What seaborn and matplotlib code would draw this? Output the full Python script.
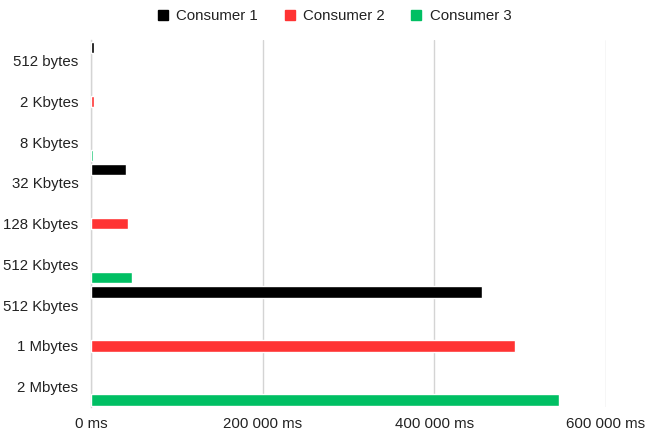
import matplotlib
matplotlib.use("Agg")
import matplotlib.pyplot as plt
from matplotlib.lines import Line2D
import seaborn as sns
import pandas as pd
import numpy as np

# Message-size groups and the transfer time per consumer (ms)
groups = ["small", "medium", "large"]
consumers = ["Consumer 1", "Consumer 2", "Consumer 3"]
consumer1_ms = [3500, 40800, 455400]
consumer2_ms = [3000, 43500, 493800]
consumer3_ms = [2500, 47800, 544700]

size_labels = ["512 bytes", "2 Kbytes", "8 Kbytes", "32 Kbytes", "128 Kbytes",
               "512 Kbytes", "512 Kbytes", "1 Mbytes", "2 Mbytes"]
x_ticks = [0, 200000, 400000, 600000]
x_tick_labels = ["0 ms", "200 000 ms", "400 000 ms", "600 000 ms"]

palette = {"Consumer 1": "#000000", "Consumer 2": "#ff3333", "Consumer 3": "#00bf63"}

rows = []
for name, vals in zip(consumers, [consumer1_ms, consumer2_ms, consumer3_ms]):
    for g, v in zip(groups, vals):
        rows.append({"group": g, "consumer": name, "ms": v})
df = pd.DataFrame(rows)

sns.set_theme(style="white")
plt.rcParams["font.family"] = ["Liberation Sans", "DejaVu Sans"]

W, H = 646, 433
fig = plt.figure(figsize=(W / 100, H / 100), dpi=100)
left, right, top, bottom = 91, 606, 40.4, 407
ax = fig.add_axes([left / W, (H - bottom) / H, (right - left) / W, (bottom - top) / H])

sns.barplot(data=df, x="ms", y="group", hue="consumer", order=groups,
            hue_order=consumers, palette=palette, orient="h",
            width=1.3245, gap=0.787, dodge=True, legend=False, ax=ax,
            saturation=1)

ax.set_xlim(0, 600000)
ax.set_ylim(2.5, -0.5)
ax.set_xticks(x_ticks)
ax.set_xticklabels(x_tick_labels)
ax.set_yticks(np.arange(len(size_labels)) / 3 - 1 / 3)
ax.set_yticklabels(size_labels)
ax.set_xlabel("")
ax.set_ylabel("")

ax.grid(axis="x", color="#d4d4d4", linewidth=1)
ax.set_axisbelow(True)
for side in ["top", "right", "bottom"]:
    ax.spines[side].set_visible(False)
ax.spines["left"].set_color("#d4d4d4")
ax.spines["left"].set_linewidth(1)
ax.spines["left"].set_zorder(0.5)
ax.tick_params(axis="both", length=0, labelsize=10.8, colors="#222222")
ax.tick_params(axis="x", pad=7)
ax.tick_params(axis="y", pad=9)

handles = [Line2D([0], [0], marker="s", linestyle="", markersize=6.5,
                  markerfacecolor=palette[c], markeredgecolor=palette[c], label=c)
           for c in consumers]
fig.legend(handles=handles, loc="center", bbox_to_anchor=(335 / W, 1 - 16 / H),
           ncol=3, frameon=False, fontsize=10.8, handlelength=0.6,
           handletextpad=0.6, columnspacing=1.8, labelcolor="#222222")

fig.savefig("out.png", dpi=100)
